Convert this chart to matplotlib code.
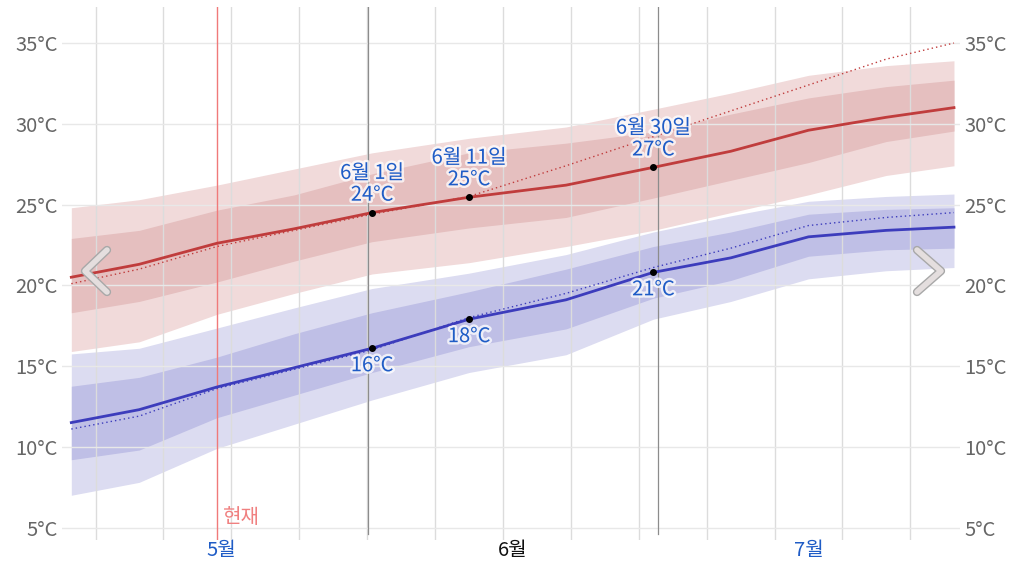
import numpy as np
import pandas as pd
import matplotlib
matplotlib.use("Agg")
import matplotlib.pyplot as plt
import matplotlib.dates as mdates
import matplotlib.patheffects as pe

plt.rcParams['font.family'] = ['Noto Sans CJK KR', 'DejaVu Sans']

# --- data ---
dates = pd.to_datetime(['2024-05-01', '2024-05-08', '2024-05-16', '2024-05-24',
                        '2024-06-01', '2024-06-11', '2024-06-21', '2024-06-30',
                        '2024-07-08', '2024-07-16', '2024-07-24', '2024-07-31'])

hi_avg = [20.5, 21.3, 22.6, 23.5, 24.5, 25.45, 26.2, 27.3, 28.3, 29.6, 30.4, 31.0]
hi_recent = [20.1, 21.0, 22.4, 23.4, 24.4, 25.5, 27.4, 29.2, 30.8, 32.4, 34.0, 35.0]
hi_p25 = [18.3, 19.0, 20.2, 21.5, 22.7, 23.55, 24.2, 25.4, 26.5, 27.6, 28.9, 29.55]
hi_p75 = [22.9, 23.4, 24.65, 25.6, 26.9, 28.2, 28.8, 29.5, 30.6, 31.6, 32.3, 32.7]
hi_p10 = [15.9, 16.5, 18.2, 19.5, 20.7, 21.4, 22.4, 23.4, 24.5, 25.6, 26.8, 27.4]
hi_p90 = [24.8, 25.3, 26.2, 27.2, 28.2, 29.1, 29.8, 30.9, 31.9, 33.0, 33.6, 33.9]

lo_avg = [11.5, 12.3, 13.7, 14.9, 16.1, 17.9, 19.1, 20.8, 21.7, 23.0, 23.4, 23.6]
lo_recent = [11.1, 11.9, 13.6, 14.8, 16.0, 18.0, 19.5, 21.1, 22.3, 23.7, 24.2, 24.5]
lo_p25 = [9.2, 9.8, 11.8, 13.2, 14.6, 16.2, 17.3, 19.2, 20.3, 21.8, 22.2, 22.3]
lo_p75 = [13.75, 14.3, 15.55, 17.0, 18.3, 19.6, 21.0, 22.4, 23.3, 24.4, 24.7, 24.8]
lo_p10 = [7.0, 7.8, 9.9, 11.4, 12.9, 14.6, 15.7, 17.9, 19.0, 20.4, 20.9, 21.1]
lo_p90 = [15.75, 16.1, 17.35, 18.6, 19.8, 20.75, 21.9, 23.3, 24.3, 25.2, 25.5, 25.65]

# highlighted days
mark_dates = pd.to_datetime(['2024-06-01', '2024-06-11', '2024-06-30'])
mark_titles = ['6월 1일', '6월 11일', '6월 30일']
mark_hi = [24.5, 25.45, 27.3]
mark_lo = [16.1, 17.9, 20.8]
mark_hi_labels = ['24°C', '25°C', '27°C']
mark_lo_labels = ['16°C', '18°C', '21°C']

now_date = pd.Timestamp('2024-05-16')
month_ticks = pd.to_datetime(['2024-05-16 12:00', '2024-06-15 12:00', '2024-07-16 00:00'])
month_labels = ['5월', '6월', '7월']
y_ticks = [5, 10, 15, 20, 25, 30, 35]

# colours
red_line = '#c03c3c'
red_dark = '#e5bfbf'
red_light = '#f1dada'
blue_line = '#3c3cbc'
blue_dark = '#bfbfe6'
blue_light = '#dcdcf1'
label_blue = '#1f5cc6'

W, H = 1024, 567
fig = plt.figure(figsize=(W / 100, H / 100), dpi=100)
ax = fig.add_axes([62 / W, 1 - 540 / H, (960 - 62) / W, (540 - 7) / H])

x = mdates.date2num(dates)
ax.fill_between(x, hi_p10, hi_p90, color=red_light, lw=0, zorder=0.3)
ax.fill_between(x, hi_p25, hi_p75, color=red_dark, lw=0, zorder=0.35)
ax.fill_between(x, lo_p10, lo_p90, color=blue_light, lw=0, zorder=0.3)
ax.fill_between(x, lo_p25, lo_p75, color=blue_dark, lw=0, zorder=0.35)

ax.plot(x, hi_avg, color=red_line, lw=2.0, zorder=3)
ax.plot(x, hi_recent, color=red_line, lw=1.0, ls=(0, (1, 2.2)), zorder=3)
ax.plot(x, lo_avg, color=blue_line, lw=2.0, zorder=3)
ax.plot(x, lo_recent, color=blue_line, lw=1.0, ls=(0, (1, 2.2)), zorder=3)

jun1 = mdates.date2num(pd.Timestamp('2024-06-01'))
x0 = jun1 - 31.96
x1 = jun1 + 60.62
ax.set_xlim(x0, x1)
ax.set_ylim(4.23, 37.23)

# weekly grid lines
ax.set_xticks([jun1 + 7 * k - 0.5 for k in range(-4, 9)], minor=True)
ax.set_xticks(mdates.date2num(month_ticks))
ax.set_xticklabels(month_labels, fontsize=14.5)
for lbl, c in zip(ax.get_xticklabels(), [label_blue, '#111111', label_blue]):
    lbl.set_color(c)
ax.tick_params(axis='x', which='both', length=0, pad=0)
ax.grid(which='minor', axis='x', color='#dcdcdc', lw=1)
ax.grid(which='major', axis='x', visible=False)

ax.set_yticks(y_ticks)
ax.set_yticklabels([f'{v}°C' for v in y_ticks])
ax.tick_params(axis='y', length=0, labelsize=14.5, labelcolor='#666666', pad=3,
               labelright=True, right=False)
ax.grid(axis='y', color='#e8e8e8', lw=1)
ax.set_axisbelow(True)
for s in ax.spines.values():
    s.set_visible(False)

# "now" line
ax.axvline(mdates.date2num(now_date), color='#f07a7a', lw=1, zorder=2)
ax.text(mdates.date2num(now_date) + 0.6, 5.0, '현재', color='#f08080', fontsize=14.5,
        ha='left', va='bottom')

# dark marker lines
ax.plot([jun1 - 0.4] * 2, [4.6, 37.23], color='#8c8c8c', lw=0.9, zorder=2)
ax.plot([jun1 + 29.5] * 2, [4.6, 37.23], color='#8c8c8c', lw=0.9, zorder=2)

halo = [pe.withStroke(linewidth=3.5, foreground='white', alpha=0.75)]
mx = mdates.date2num(mark_dates)
ax.scatter(mx, mark_hi, s=16, color='black', zorder=5)
ax.scatter(mx, mark_lo, s=16, color='black', zorder=5)
for xi, t, hv, lv, hl, ll in zip(mx, mark_titles, mark_hi, mark_lo,
                                 mark_hi_labels, mark_lo_labels):
    ax.annotate(f'{t}\n{hl}', (xi, hv), xytext=(0, 5), textcoords='offset points',
                ha='center', va='bottom', fontsize=14.5, color=label_blue,
                linespacing=1.05, path_effects=halo, zorder=6)
    ax.annotate(ll, (xi, lv), xytext=(0, -5), textcoords='offset points',
                ha='center', va='top', fontsize=14.5, color=label_blue,
                path_effects=halo, zorder=6)

# navigation chevrons
chev = [pe.Stroke(linewidth=6, foreground='#a8a8a8'), pe.Normal()]
for xs in ([107, 85, 107], [917, 941, 917]):
    fig.add_artist(plt.Line2D([v / W for v in xs], [1 - 250 / H, 1 - 271 / H, 1 - 292 / H],
                              color='#e4dede', lw=4, solid_capstyle='round',
                              solid_joinstyle='round', path_effects=chev, zorder=10))

fig.savefig('out.png', dpi=100)
